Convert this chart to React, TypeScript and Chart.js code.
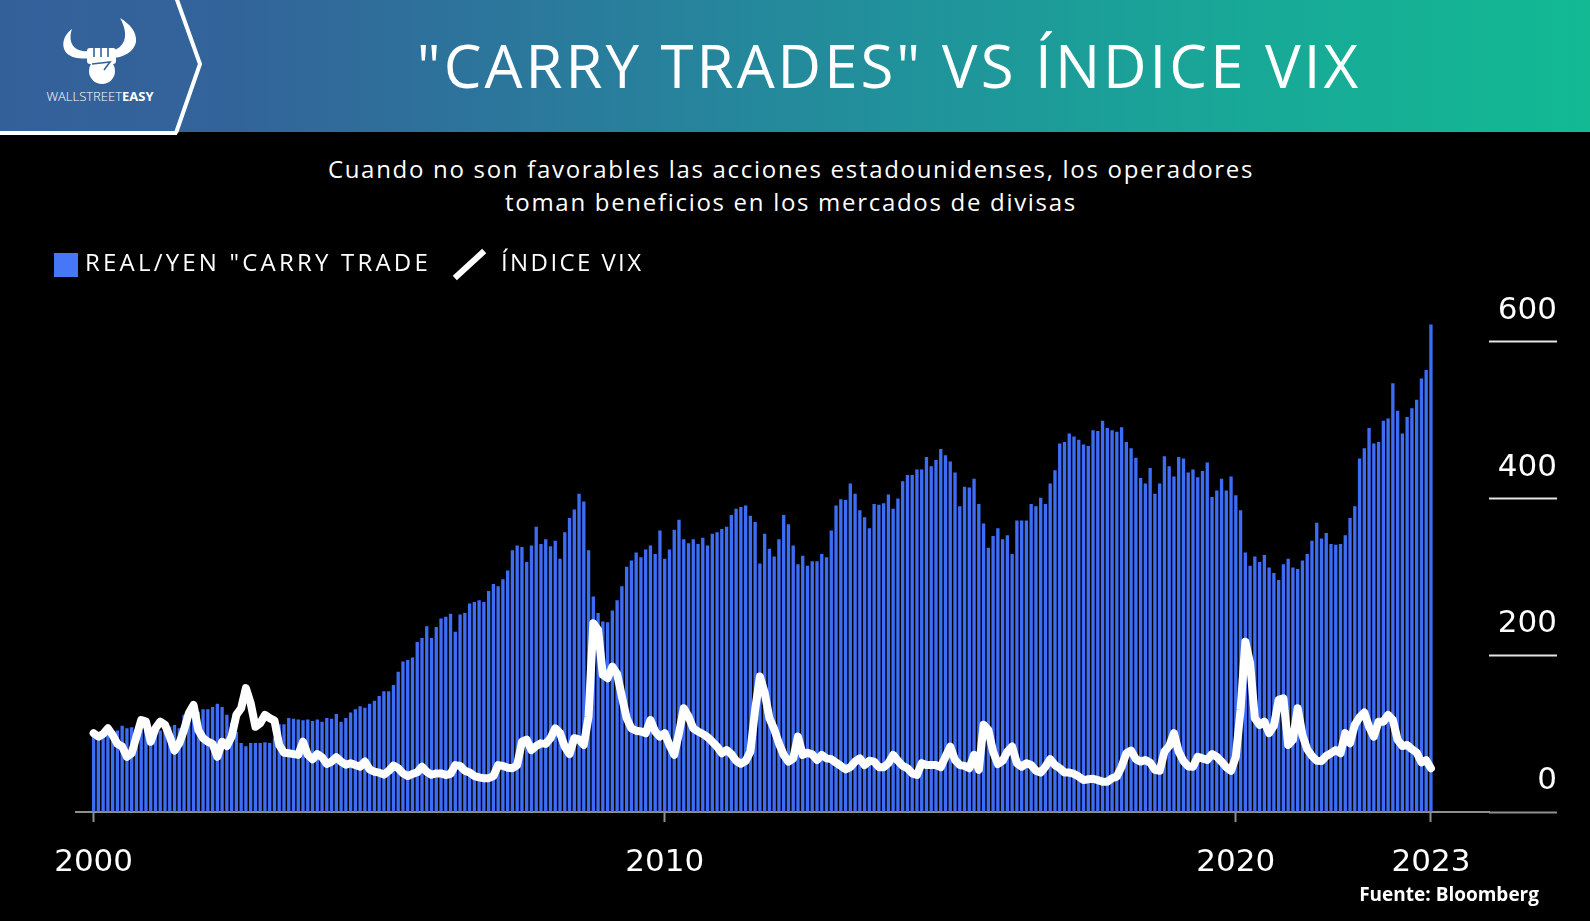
import React, { useEffect, useRef } from "react";
import { Chart, registerables } from "chart.js";

Chart.register(...registerables);

// ---- data (monthly, Jan 2000 .. Jun 2023) ----
const tickYears = [2000, 2010, 2020, 2023];
const yTicks = [0, 200, 400, 600];

const carryTrade = [
  104, 102, 104, 102, 103, 104, 110, 107, 108, 106,
  104, 109, 106, 107, 104, 106, 109, 111, 107, 124,
  131, 135, 128, 131, 131, 134, 138, 134, 124, 114,
  102, 88, 84, 88, 88, 88, 89, 88, 94, 112,
  112, 120, 119, 118, 117, 118,
  116, 118, 115, 120, 119, 125, 115, 120, 127, 131,
  135, 133, 138, 142, 148, 154, 154, 162, 179, 192,
  194, 197, 217, 222, 237, 222, 236, 247, 249, 253,
  230, 252, 254, 266, 268, 270, 268, 282, 291, 288,
  297, 308, 334, 340, 338, 319,
  340, 364, 342, 348, 339, 346, 323, 357, 375, 386,
  406, 396, 334, 275, 254, 243, 242, 257, 270, 288,
  313, 321, 331, 325, 335, 340, 329, 359, 323, 335,
  360, 373, 348, 343, 348, 342, 350, 340, 355, 357,
  361, 364, 379, 387, 389, 391,
  378, 370, 317, 355, 336, 326, 348, 379, 367, 340,
  316, 327, 314, 320, 320, 329, 325, 359, 391, 399,
  398, 419, 406, 385, 376, 362, 393, 392, 394, 405,
  387, 400, 422, 430, 430, 437, 437, 453, 441, 449,
  463, 455, 447, 433, 390, 415,
  414, 425, 393, 368, 337, 352, 362, 348, 353, 329,
  372, 372, 372, 393, 390, 401, 393, 419, 436, 470,
  472, 483, 479, 475, 469, 467, 487, 486, 499, 490,
  487, 485, 491, 472, 464, 452, 426, 419, 439, 406,
  419, 454, 441, 428, 453, 451, 433,
  437, 427, 435, 446, 402, 410, 425, 410, 428, 404,
  385, 331, 314, 326, 319, 328, 312, 305, 296, 316,
  323, 312, 310, 321, 329, 346, 369, 349, 356, 342,
  341, 342, 353, 375, 390, 451, 464, 490, 470, 472,
  499, 502, 547, 512, 483, 504, 515, 526, 553, 564,
  622,
];

const vixIndex = [
  29.4, 28.1, 29.1, 31.2, 28.7, 25.4, 24.4, 20.6, 21.9, 28.1,
  34.3, 33.7, 26.2, 31.2, 33.7, 32.5, 28.1, 22.9, 25.6, 30.6,
  36.8, 39.9, 30.6, 27.5, 26.2, 25.4, 20.6, 26.2, 24.6, 28.1,
  36.2, 38.7, 46.2, 40.6, 31.8, 33.1, 36.2, 35.0, 34.1, 25.0,
  22.1, 21.9, 21.6, 21.3,
  26.2, 21.3, 19.7, 21.6, 20.4, 17.9, 18.8, 20.4, 18.8, 17.6,
  18.2, 17.5, 16.9, 18.8, 15.9, 15.0, 14.7, 13.9, 15.3, 17.3,
  16.3, 14.4, 13.4, 14.2, 14.8, 16.9, 15.0, 13.9, 14.4, 14.4,
  13.8, 14.2, 17.5, 17.2, 15.4, 14.7, 13.4, 12.9, 12.6, 12.6,
  13.4, 17.5, 17.2, 16.5, 16.3, 17.5,
  26.2, 27.0, 23.1, 24.6, 25.6, 25.4, 27.5, 31.2, 29.4, 24.4,
  21.6, 27.5, 27.1, 25.0, 35.6, 70.4, 67.9, 51.1, 49.9, 54.2,
  51.5, 43.0, 35.0, 31.2, 30.3, 30.0, 29.4, 34.3, 30.0, 28.1,
  29.4, 25.0, 21.3, 29.4, 38.7, 35.6, 31.2, 30.0, 29.1, 27.9,
  26.2, 24.4, 21.9, 23.1, 21.6, 19.1, 18.0, 19.0,
  22.5, 38.1, 50.5, 44.5, 35.0, 30.9, 25.6, 21.3, 18.8, 20.0,
  28.1, 21.3, 22.1, 21.5, 19.4, 21.3, 20.0, 19.7, 18.4, 17.2,
  15.9, 16.7, 18.8, 20.0, 17.5, 19.1, 18.8, 16.7, 16.7, 18.2,
  21.3, 19.1, 17.2, 16.3, 14.4, 13.8, 18.2, 17.5, 17.5, 17.5,
  16.7, 20.6, 24.4, 19.4, 17.5, 17.2,
  16.3, 21.3, 15.7, 32.5, 30.6, 22.5, 17.9, 19.1, 22.5, 24.4,
  18.2, 16.9, 18.2, 17.5, 15.4, 14.7, 16.9, 19.7, 17.5, 16.3,
  14.7, 14.7, 14.2, 13.2, 11.9, 12.2, 12.4, 11.9, 11.3, 11.3,
  12.6, 13.2, 16.9, 21.9, 22.9, 19.7, 18.8, 19.4, 18.4, 15.7,
  15.4, 22.5, 24.6, 29.4, 22.5, 19.0, 17.0,
  16.9, 20.6, 20.0, 19.4, 21.6, 20.6, 18.8, 16.7, 15.4, 20.6,
  38.1, 63.5, 55.5, 35.0, 32.5, 33.7, 29.4, 32.1, 41.8, 42.4,
  25.0, 26.9, 38.7, 28.7, 23.4, 20.9, 19.1, 19.0, 20.9, 21.9,
  23.1, 21.9, 29.4, 25.6, 32.5, 35.3, 37.1, 31.8, 28.1, 33.7,
  33.7, 36.2, 34.3, 26.9, 24.6, 25.0, 23.4, 22.2, 18.5, 19.3,
  16.3,
];

const W = 1590;
const H = 921;
const AXIS_FONT = "'DejaVu Sans', sans-serif";
const TEXT_FONT = "'Open Sans', sans-serif";

function Logo() {
  const blue = "#33629a";
  return (
    <svg
      width={210}
      height={136}
      style={{ position: "absolute", left: 0, top: 0 }}
      viewBox="0 0 210 136"
    >
      <path
        d="M72,29 C61,37 61,50 69,55 C75,59 83,59 90,58 L90,51 C82,52 75,50 72,44 C70,40 70,34 72,29 Z"
        fill="#fff"
      />
      <path
        d="M120,18 C125,27 127,36 123,43 C119,50 111,51 111,51 L111,58 C123,58 134,52 136,42 C137,32 130,24 120,18 Z"
        fill="#fff"
      />
      <rect x={87} y={48} width={29} height={16} rx={3} fill="#fff" />
      <circle cx={102} cy={71} r={13} fill="#fff" />
      <line x1={94} y1={48} x2={94} y2={57} stroke={blue} strokeWidth={1.6} />
      <line x1={101} y1={48} x2={101} y2={57} stroke={blue} strokeWidth={1.6} />
      <line x1={108} y1={48} x2={108} y2={57} stroke={blue} strokeWidth={1.6} />
      <path d="M92,64 L110,62 L104,70" stroke={blue} strokeWidth={1.6} fill="none" />
      <polyline
        points="176,-3 200,64 176,133"
        stroke="#fff"
        strokeWidth={4}
        fill="none"
      />
      <line x1={0} y1={133} x2={177} y2={133} stroke="#fff" strokeWidth={4} />
      <text
        x={100}
        y={101}
        textAnchor="middle"
        fill="#fff"
        style={{ fontFamily: TEXT_FONT, fontSize: 13 }}
      >
        <tspan fontWeight={300}>WALLSTREET</tspan>
        <tspan fontWeight={700}>EASY</tspan>
      </text>
    </svg>
  );
}

export default function App() {
  const canvasRef = useRef<HTMLCanvasElement | null>(null);

  useEffect(() => {
    document.body.style.margin = "0";
    document.body.style.background = "#000";
    const canvas = canvasRef.current;
    if (!canvas) return;

    const measure = canvas.getContext("2d");
    let widest = 60;
    if (measure) {
      measure.font = `31px ${AXIS_FONT}`;
      widest = Math.max(...yTicks.map((t) => measure.measureText(String(t)).width));
    }

    const lastIdx = carryTrade.length - 1;
    const tickValues = tickYears.map((y) =>
      y === tickYears[tickYears.length - 1] ? lastIdx : (y - tickYears[0]) * 12
    );
    const tickLabel = new Map<number, string>();
    tickValues.forEach((v, k) => tickLabel.set(v, String(tickYears[k])));

    const chart = new Chart(canvas, {
      type: "bar",
      data: {
        datasets: [
          {
            type: "line",
            label: "ÍNDICE VIX",
            data: vixIndex.map((v, i) => ({ x: i, y: v })),
            yAxisID: "y2",
            borderColor: "#ffffff",
            borderWidth: 8,
            pointRadius: 0,
            tension: 0,
            borderJoinStyle: "round",
            borderCapStyle: "round",
            order: 0,
          } as any,
          {
            type: "bar",
            label: 'REAL/YEN "CARRY TRADE',
            data: carryTrade.map((v, i) => ({ x: i, y: v })),
            yAxisID: "y",
            backgroundColor: "#3d6df5",
            borderWidth: 0,
            barPercentage: 0.7,
            categoryPercentage: 1,
            order: 1,
          } as any,
        ],
      },
      options: {
        responsive: false,
        animation: false,
        events: [],
        layout: { padding: { left: 76, right: 33, top: 302.5, bottom: 49 } },
        plugins: {
          legend: { display: false },
          tooltip: { enabled: false },
          title: { display: false },
        },
        scales: {
          x: {
            type: "linear",
            position: "bottom",
            min: -3.7,
            max: 293.2,
            offset: false,
            border: { display: true, color: "#8f8f8f", width: 2 },
            grid: {
              display: true,
              offset: false,
              drawOnChartArea: false,
              drawTicks: true,
              tickLength: 10,
              tickColor: "#8f8f8f",
              tickWidth: 2,
            },
            afterBuildTicks: (scale: any) => {
              scale.ticks = tickValues.map((v) => ({ value: v }));
            },
            afterFit: (scale: any) => {
              scale.height = 60;
            },
            ticks: {
              autoSkip: false,
              maxRotation: 0,
              minRotation: 0,
              padding: 22,
              color: "#ffffff",
              font: { family: AXIS_FONT, size: 31 },
              callback: (v: any) => tickLabel.get(Number(v)) ?? "",
            },
          },
          y: {
            type: "linear",
            position: "right",
            min: 0,
            max: 650,
            border: { display: false },
            grid: {
              display: true,
              offset: false,
              drawOnChartArea: false,
              drawTicks: true,
              tickLength: 68,
              tickWidth: 2,
              tickColor: (ctx: any) =>
                ctx.tick && ctx.tick.value === 0 ? "#8f8f8f" : "#e4e4e4",
            },
            afterBuildTicks: (scale: any) => {
              scale.ticks = yTicks.map((v) => ({ value: v }));
            },
            afterFit: (scale: any) => {
              scale.width = 68;
            },
            ticks: {
              crossAlign: "far",
              padding: -widest,
              labelOffset: -31,
              color: "#ffffff",
              font: { family: AXIS_FONT, size: 31 },
            },
          },
          y2: {
            type: "linear",
            display: false,
            min: 0,
            max: 190,
          },
        },
      } as any,
    });

    return () => chart.destroy();
  }, []);

  return (
    <div
      style={{
        position: "fixed",
        left: 0,
        top: 0,
        width: W,
        height: H,
        background: "#000",
        overflow: "hidden",
        color: "#fff",
        fontFamily: TEXT_FONT,
      }}
    >
      <div
        style={{
          position: "absolute",
          left: 0,
          top: 0,
          width: W,
          height: 132,
          background:
            "linear-gradient(90deg, #34609a 0%, #32649a 15%, #2a7a9c 35%, #21909b 55%, #18a897 78%, #12b993 100%)",
        }}
      />
      <Logo />
      <div
        style={{
          position: "absolute",
          left: 889,
          top: 30,
          transform: "translateX(-50%)",
          whiteSpace: "nowrap",
          fontSize: 60,
          lineHeight: "70px",
          fontWeight: 400,
          letterSpacing: 3,
        }}
      >
        "CARRY TRADES" VS ÍNDICE VIX
      </div>
      <div
        style={{
          position: "absolute",
          left: 791,
          top: 152,
          transform: "translateX(-50%)",
          whiteSpace: "nowrap",
          textAlign: "center",
          fontSize: 24,
          lineHeight: "33px",
          letterSpacing: 1.7,
        }}
      >
        Cuando no son favorables las acciones estadounidenses, los operadores
        <br />
        toman beneficios en los mercados de divisas
      </div>
      <canvas
        ref={canvasRef}
        width={W}
        height={H}
        style={{ position: "absolute", left: 0, top: 0, width: W, height: H, display: "block" }}
      />
      <div
        style={{
          position: "absolute",
          left: 54,
          top: 253,
          width: 24,
          height: 24,
          background: "#4677f6",
        }}
      />
      <div
        style={{
          position: "absolute",
          left: 85,
          top: 245,
          fontSize: 24,
          lineHeight: "34px",
          letterSpacing: 3.2,
          whiteSpace: "nowrap",
        }}
      >
        REAL/YEN "CARRY TRADE
      </div>
      <svg
        width={40}
        height={40}
        style={{ position: "absolute", left: 450, top: 245 }}
        viewBox="0 0 40 40"
      >
        <line x1={7} y1={31} x2={32} y2={8} stroke="#fff" strokeWidth={6} strokeLinecap="square" />
      </svg>
      <div
        style={{
          position: "absolute",
          left: 501,
          top: 245,
          fontSize: 24,
          lineHeight: "34px",
          letterSpacing: 2.4,
          whiteSpace: "nowrap",
        }}
      >
        ÍNDICE VIX
      </div>
      <div
        style={{
          position: "absolute",
          right: W - 1539,
          top: 882,
          fontSize: 19,
          lineHeight: "24px",
          fontWeight: 700,
          whiteSpace: "nowrap",
        }}
      >
        Fuente: Bloomberg
      </div>
    </div>
  );
}
